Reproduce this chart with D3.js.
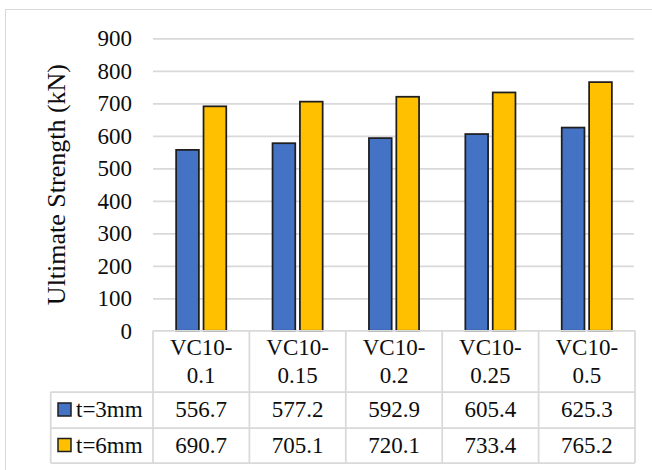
<!DOCTYPE html>
<html>
<head>
<meta charset="utf-8">
<script src="https://cdn.jsdelivr.net/npm/d3@7"></script>
<style>
  html, body { margin: 0; padding: 0; background: #fff; }
  svg { display: block; }
</style>
</head>
<body>
<script>
const categories = ["VC10-0.1", "VC10-0.15", "VC10-0.2", "VC10-0.25", "VC10-0.5"];
const categoryLine1 = ["VC10-", "VC10-", "VC10-", "VC10-", "VC10-"];
const categoryLine2 = ["0.1", "0.15", "0.2", "0.25", "0.5"];
const seriesNames = ["t=3mm", "t=6mm"];
const t3Values = [556.7, 577.2, 592.9, 605.4, 625.3];
const t6Values = [690.7, 705.1, 720.1, 733.4, 765.2];
const seriesColors = ["#4472C4", "#FFC000"];
const yTicks = [0, 100, 200, 300, 400, 500, 600, 700, 800, 900];
const yTitle = "Ultimate Strength (kN)";

const seriesValues = [t3Values, t6Values];
const W = 652, H = 470;
const FONT = "'Liberation Serif', 'DejaVu Serif', serif";
const TXT = "#0d0d0d";

const svg = d3.select("body").append("svg").attr("width", W).attr("height", H);

function styleText(sel, size) {
  return sel.style("font-family", FONT).attr("font-size", size).style("fill", TXT);
}

// chart area border
svg.append("rect").attr("x", 5.5).attr("y", 9.5).attr("width", 660).attr("height", 480)
  .attr("fill", "#fff").attr("stroke", "#d9d9d9").attr("stroke-width", 1);

const x0 = d3.scaleBand().domain(categories).range([153, 635]).paddingInner(0).paddingOuter(0);
const bw = x0.bandwidth();
const x1 = d3.scaleBand().domain(seriesNames).range([bw * 0.24, bw * 0.76]).paddingInner(0.17);
const y = d3.scaleLinear().domain([0, 900]).range([330.8, 38.3]);

// gridlines
const grid = d3.axisLeft(y).tickValues(yTicks.filter(d => d > 0)).tickSize(-(634 - 153)).tickFormat("");
const gG = svg.append("g").attr("transform", "translate(153,0)").call(grid);
gG.select(".domain").remove();
gG.selectAll(".tick line").attr("stroke", "#d9d9d9").attr("stroke-width", 1.75);

// y tick labels
const yAxis = d3.axisLeft(y).tickValues(yTicks).tickSize(0).tickPadding(0).tickFormat(d3.format("d"));
const yG = svg.append("g").attr("transform", "translate(132,0)").call(yAxis);
yG.select(".domain").remove();
styleText(yG.selectAll(".tick text"), 23).attr("dy", "0.33em");

// y title
styleText(svg.append("text")
  .attr("transform", `translate(65,${(y(0) + y(900)) / 2}) rotate(-90)`)
  .attr("text-anchor", "middle"), 26).text(yTitle);

// bars
const catG = svg.append("g").selectAll("g").data(categories).join("g")
  .attr("transform", d => `translate(${x0(d)},0)`);
catG.selectAll("rect")
  .data((d, i) => seriesNames.map((s, j) => ({ s, j, v: seriesValues[j][i] })))
  .join("rect")
  .attr("x", d => x1(d.s))
  .attr("width", x1.bandwidth())
  .attr("y", d => y(d.v))
  .attr("height", d => y(0) - y(d.v))
  .attr("fill", d => seriesColors[d.j])
  .attr("stroke", "#1e1e1e").attr("stroke-width", 1.75);

// data table
const rowTop = 330.8, rowHead = 392, rowA = 428, rowB = 463;
const legendLeft = 50.7;
const lineColor = "#d9d9d9";
const tg = svg.append("g");
function hline(x1p, x2p, yy) {
  tg.append("line").attr("x1", x1p).attr("x2", x2p).attr("y1", yy).attr("y2", yy)
    .attr("stroke", lineColor).attr("stroke-width", 1.75);
}
function vline(xx, y1p, y2p) {
  tg.append("line").attr("x1", xx).attr("x2", xx).attr("y1", y1p).attr("y2", y2p)
    .attr("stroke", lineColor).attr("stroke-width", 1.75);
}
const xr = x0.range();
hline(xr[0], xr[1], rowTop);
hline(legendLeft, xr[1], rowHead);
hline(legendLeft, xr[1], rowA);
hline(legendLeft, xr[1], rowB);
categories.forEach(c => vline(x0(c), rowTop, rowB));
vline(xr[1], rowTop, rowB);
vline(legendLeft, rowHead, rowB);

// header text
categories.forEach((c, i) => {
  const cx = x0(c) + bw / 2;
  styleText(tg.append("text").attr("x", cx).attr("y", 355).attr("text-anchor", "middle"), 23).text(categoryLine1[i]);
  styleText(tg.append("text").attr("x", cx).attr("y", 383).attr("text-anchor", "middle"), 23).text(categoryLine2[i]);
});

// value rows with legend keys
const rowBaselines = [417, 452.5];
seriesNames.forEach((s, j) => {
  const ty = rowBaselines[j];
  tg.append("rect").attr("x", 58).attr("y", ty - 14).attr("width", 13).attr("height", 13)
    .attr("fill", seriesColors[j]).attr("stroke", "#1e1e1e").attr("stroke-width", 1.5);
  styleText(tg.append("text").attr("x", 76).attr("y", ty), 23).text(s);
  categories.forEach((c, i) => {
    styleText(tg.append("text").attr("x", x0(c) + bw / 2).attr("y", ty).attr("text-anchor", "middle"), 23)
      .text(seriesValues[j][i].toFixed(1));
  });
});
</script>
</body>
</html>
